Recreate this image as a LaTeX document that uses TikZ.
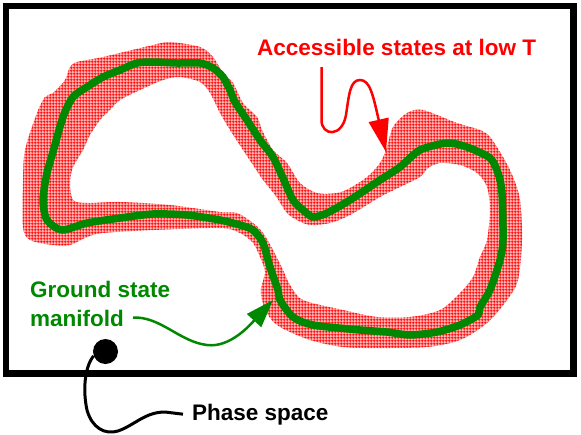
\documentclass[tikz,border=0pt]{standalone}
\usepackage{fontspec}
\setmainfont{Liberation Sans}
\usetikzlibrary{arrows.meta,patterns.meta}

\definecolor{gsgreen}{RGB}{0,136,0}

\tikzdeclarepattern{
  name=redgrid,
  type=uncolored,
  bounding box={(0,0) and (3.2pt,3.2pt)},
  tile size={(3.2pt,3.2pt)},
  code={
    \draw[line width=1pt] (0,1.6pt) -- (3.2pt,1.6pt) (1.6pt,0) -- (1.6pt,3.2pt);
  }
}

\begin{document}
\begin{tikzpicture}[x=1pt,y=-1pt,
  lbl/.style={inner sep=0pt,font=\bfseries\fontsize{22.5}{28.3}\selectfont},
  bandfill/.style={even odd rule,pattern=redgrid,pattern color=red,
    preaction={fill=red!28,even odd rule}}]
\useasboundingbox (0,0) rectangle (581,434);

% phase space frame
\draw[line width=6.5pt] (6,6) rectangle (573.5,373.5);

% accessible states at low T
\path[bandfill]
  plot[smooth cycle,tension=0.5] coordinates {(70,67) (77,62) (103,57) (153,45) (170,42) (200,47) (213,57) (223,73) (233,83) (243,103) (257,117) (262,130) (273,150) (287,163) (300,183) (317,193) (337,193) (350,188) (367,177) (380,163) (387,147) (393,127) (407,113) (423,110) (457,123) (480,130) (490,137) (503,157) (513,177) (520,200) (522,240) (518,280) (507,300) (487,323) (460,340) (427,347) (377,348) (343,347) (310,340) (280,327) (268,315) (262,300) (261,288) (265,272) (260,257) (253,243) (240,233) (220,228) (153,230) (103,233) (87,237) (70,245) (53,245) (30,240) (23,227) (23,183) (25,150) (37,113) (45,97) (53,93) (65,80)}
  plot[smooth cycle,tension=0.5] coordinates {(83,150) (90,135) (100,120) (110,110) (120,100) (140,90) (163,80) (180,77) (200,82) (210,93) (220,113) (230,130) (243,150) (253,165) (263,180) (275,195) (287,213) (297,220) (310,225) (330,223) (350,215) (380,197) (400,187) (420,177) (428,168) (440,163) (460,165) (477,173) (487,187) (490,210) (487,240) (480,257) (473,277) (460,293) (440,310) (410,317) (377,317) (343,310) (303,300) (290,285) (283,270) (273,250) (263,233) (253,223) (237,213) (220,212) (170,205) (120,202) (87,203) (73,200) (70,183) (73,167)};

% ground state manifold
\draw[gsgreen,line width=7.5pt,line join=round]
  plot[smooth cycle,tension=0.45] coordinates {(62,230) (47,220) (43,200) (47,173) (53,152) (63,117) (73,97) (87,87) (103,77) (120,70) (137,63) (153,62) (177,63) (200,63) (213,68) (223,77) (230,90) (235,102) (247,120) (260,140) (273,157) (283,178) (293,200) (303,210) (313,217) (327,213) (350,200) (380,180) (400,167) (420,150) (447,143) (467,147) (490,158) (498,173) (502,193) (503,240) (500,260) (490,290) (480,307) (478,315) (460,325) (437,332) (410,335) (387,332) (360,330) (313,325) (293,317) (280,300) (278,290) (270,267) (263,243) (253,230) (240,225) (220,220) (187,215) (153,214) (120,218) (87,223)};

\node[lbl,text=red,anchor=base west] (access) at (257,55) {Accessible states at low T};
\node[lbl,text=gsgreen,align=left,anchor=west] (ground) at (30,304) {Ground state\\manifold};
\node[lbl,anchor=base west] (phase) at (192,420) {Phase space};
\node[circle,fill=black,minimum size=25pt,inner sep=0pt] (dot) at (105.5,351.5) {};

\coordinate (lowT) at (386,152);
\coordinate (gs) at (273,300);

\draw[red,line width=2.5pt,-{Triangle[length=33pt,width=20pt]}]
  ([xshift=64.5pt,yshift=-12pt]access.base west) -- (321.5,120)
  .. controls (321.5,136) and (342,138) .. (346,115)
  .. controls (349,95) and (350,80) .. (360,80)
  .. controls (370,80) and (373,95) .. (lowT);
\draw[gsgreen,line width=2.5pt,-{Triangle[length=28pt,width=19pt]}]
  ([xshift=103pt,yshift=9pt]ground.south west)
  .. controls (160,316) and (180,342) .. (207,345)
  .. controls (230,348) and (250,325) .. (gs);
\draw[line width=3pt]
  (dot.200) .. controls (84,368) and (83,392) .. (87,410)
  .. controls (92,428) and (105,435) .. (118,431)
  .. controls (135,425) and (145,412) .. (165,412)
  -- ([xshift=-9pt]phase.west);
\end{tikzpicture}
\end{document}
